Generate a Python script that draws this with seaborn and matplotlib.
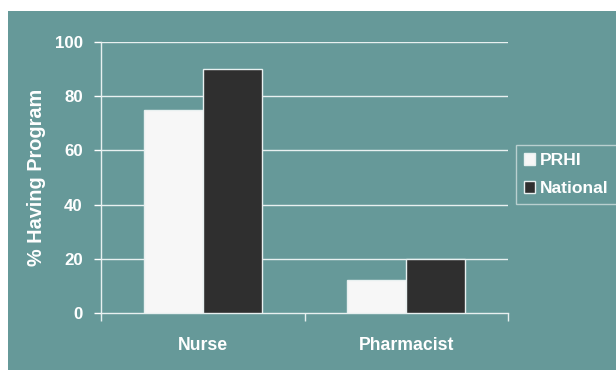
import matplotlib
matplotlib.use("Agg")
import matplotlib.pyplot as plt
import seaborn as sns
import pandas as pd
from matplotlib.patches import Rectangle

categories = ["Nurse", "Pharmacist"]
series = ["PRHI", "National"]
prhi = [75, 12]
national = [90, 20]
yticks = [0, 20, 40, 60, 80, 100]

df = pd.DataFrame({
    "Category": categories * 2,
    "Series": [series[0]] * 2 + [series[1]] * 2,
    "Value": prhi + national,
})

sns.set_theme(style="white")
plt.rcParams["font.family"] = ["Liberation Sans", "DejaVu Sans"]
plt.rcParams["font.weight"] = "bold"

BG = "#669999"
LINE = "#e8f0f0"

fig = plt.figure(figsize=(6.16, 3.70), dpi=100)
fig.patch.set_facecolor("white")
fig.patches.append(Rectangle((8 / 616, 0), 1 - 8 / 616, 1 - 11 / 370,
                             transform=fig.transFigure, facecolor=BG,
                             edgecolor="none", zorder=-10))

ax = fig.add_axes([101 / 616, 1 - 313 / 370, 407 / 616, 271 / 370])
ax.set_facecolor("none")

sns.barplot(data=df, x="Category", y="Value", hue="Series",
            order=categories, hue_order=series,
            palette={"PRHI": "#f7f7f7", "National": "#2f2f2f"},
            width=0.58, gap=0, edgecolor=LINE, linewidth=1.0,
            ax=ax, zorder=3)

ax.set_xlim(-0.5, 1.5)
ax.set_ylim(0, 100)
ax.set_yticks(yticks)
ax.set_yticklabels([str(v) for v in yticks])
for v in yticks[1:]:
    ax.axhline(v, color=LINE, lw=1.0, zorder=1)

for s in ["top", "right"]:
    ax.spines[s].set_visible(False)
ax.spines["left"].set_color(LINE)
ax.spines["bottom"].set_color(LINE)
ax.spines["left"].set_linewidth(1.0)
ax.spines["bottom"].set_linewidth(1.0)

ax.tick_params(axis="y", colors="white", length=5, width=1, pad=8,
               labelsize=12.2, direction="out", left=True)
ax.tick_params(axis="x", colors="white", length=0, pad=17.5, labelsize=12.7)
for lbl in ax.get_xticklabels() + ax.get_yticklabels():
    lbl.set_fontweight("bold")
# category boundary ticks on x axis
ax.set_xticks([-0.5, 0.5, 1.5], minor=True)
ax.tick_params(axis="x", which="minor", length=6, width=1, color=LINE,
               direction="out", bottom=True)

ax.set_xlabel("")
ax.set_ylabel("% Having Program", color="white", fontsize=14.3,
              fontweight="bold")
ax.yaxis.set_label_coords(-0.135, 0.5)

leg = ax.legend(loc="upper left", bbox_to_anchor=(516 / 616, 1 - 145 / 370),
                bbox_transform=fig.transFigure, frameon=True, fancybox=False,
                fontsize=12.6, handlelength=0.64, handleheight=0.64,
                handletextpad=0.3, borderpad=0.45, labelspacing=0.75,
                borderaxespad=0)
leg.get_frame().set_facecolor("none")
leg.get_frame().set_edgecolor("#cfdede")
leg.get_frame().set_linewidth(1.0)
for t in leg.get_texts():
    t.set_color("white")
    t.set_fontweight("bold")
for h in leg.legend_handles:
    h.set_edgecolor(LINE)

fig.savefig("out.png", dpi=100, facecolor=fig.get_facecolor())
